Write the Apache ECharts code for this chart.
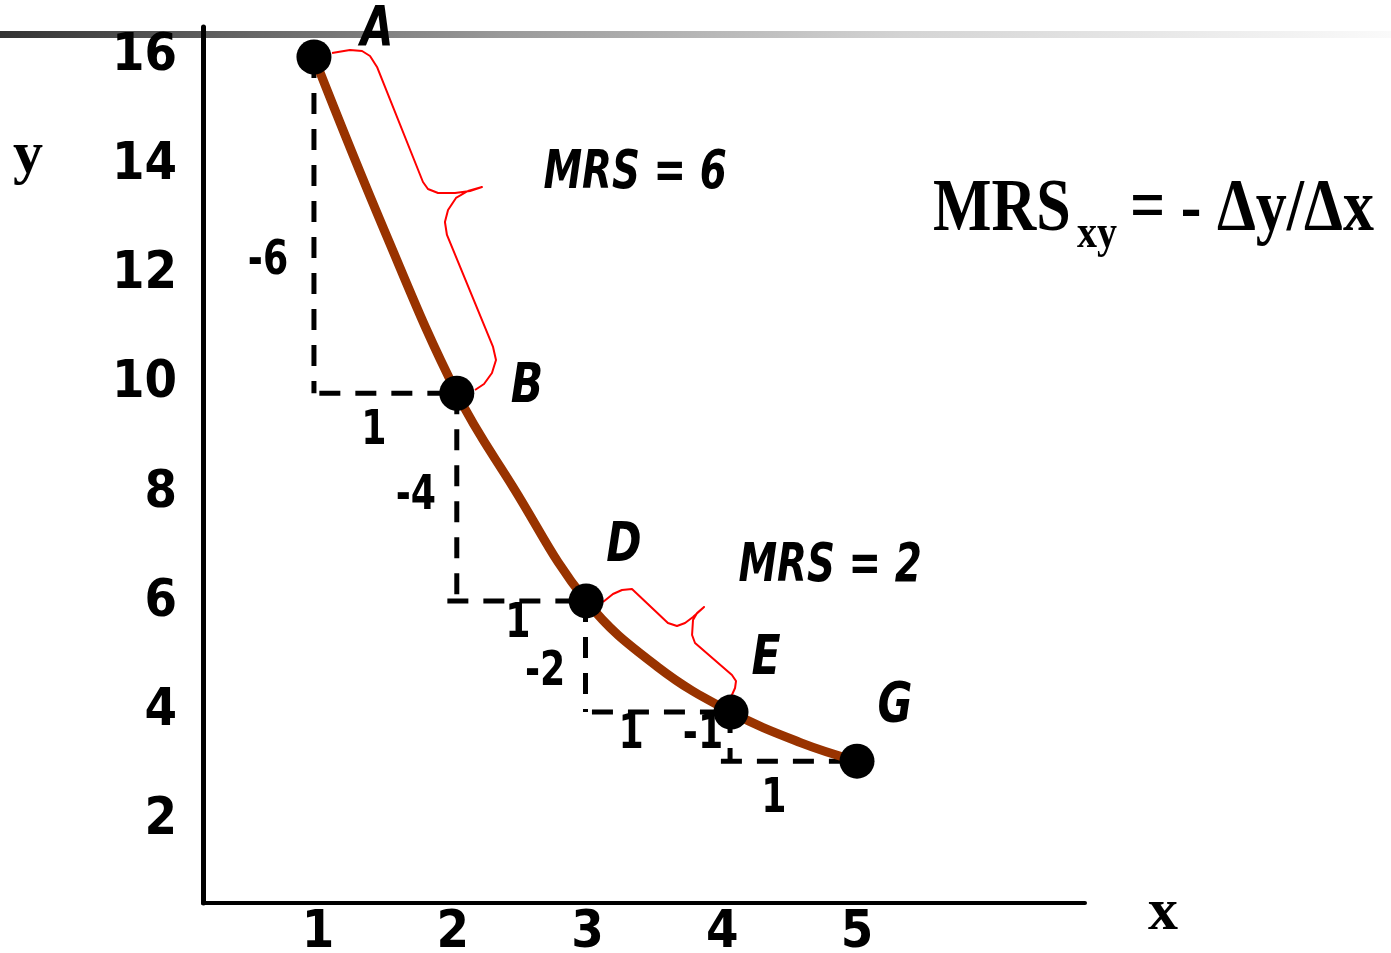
<!DOCTYPE html>
<html>
<head>
<meta charset="utf-8">
<script src="https://cdn.jsdelivr.net/npm/echarts@6/dist/echarts.min.js"></script>
<style>
html,body{margin:0;padding:0;background:#fff;}
#main{width:1391px;height:953px;}
</style>
</head>
<body>
<div id="main"></div>
<script>
// ---------- data ----------
const xTicks = [1, 2, 3, 4, 5];
const yTicks = [2, 4, 6, 8, 10, 12, 14, 16];

const pointNames = ['A', 'B', 'D', 'E', 'G'];
const pointX = [0.97, 2.03, 2.99, 4.065, 5.0];
const pointY = [16, 9.83, 6.02, 3.98, 3.08];

const curveX = [0.97, 1.49, 2.03, 2.45, 2.99, 3.52, 4.065, 4.58, 5.0];
const curveY = [16, 12.83, 9.83, 8.1, 6.02, 4.81, 3.98, 3.42, 3.08];

const brace1X = [1.104, 1.237, 1.327, 1.386, 1.438, 1.779, 1.816, 1.891, 2.017, 2.128, 2.217, 2.113, 2.024, 1.965, 1.942, 1.957, 2.299, 2.321, 2.291, 2.232, 2.165];
const brace1Y = [16.073, 16.128, 16.110, 16.018, 15.817, 13.706, 13.578, 13.505, 13.505, 13.541, 13.615, 13.541, 13.413, 13.193, 12.972, 12.734, 10.679, 10.440, 10.202, 10.000, 9.890];
const brace2X = [3.115, 3.189, 3.256, 3.330, 3.597, 3.664, 3.724, 3.783, 3.865, 3.813, 3.783, 3.776, 3.798, 4.072, 4.102, 4.095, 4.065];
const brace2Y = [6.000, 6.147, 6.220, 6.239, 5.615, 5.560, 5.615, 5.725, 5.908, 5.798, 5.670, 5.394, 5.248, 4.661, 4.550, 4.422, 4.257];

// dashed step segments: start x, start y, end x, end y
const dashX1 = [0.97, 1.01, 2.03, 1.96, 2.985, 3.033, 4.058, 3.99];
const dashY1 = [16, 9.83, 9.83, 6.02, 6.02, 3.98, 3.98, 3.08];
const dashX2 = [0.97, 2.03, 2.03, 2.99, 2.985, 4.065, 4.058, 5.0];
const dashY2 = [9.83, 9.83, 6.02, 6.02, 3.98, 3.98, 3.08, 3.08];

const deltaText = ['-6', '1', '-4', '1', '-2', '1', '-1', '1'];
const deltaX = [0.629, 1.415, 1.727, 2.484, 2.685, 3.323, 3.857, 4.384];
const deltaY = [12.24, 9.119, 7.927, 5.578, 4.697, 3.541, 3.541, 2.367];

const labelX = [1.438, 2.551, 3.271, 4.325, 5.282];
const labelY = [16.49, 9.927, 7.009, 4.936, 4.073];

const mrsText = ['MRS = 6', 'MRS = 2'];
const mrsX = [3.353, 4.80];
const mrsY = [13.86, 6.65];

const formulaText = ['MRS', 'xy', '= - Δy/Δx'];
const formulaX = [5.564, 6.633, 7.026];
const formulaY = [13.17, 12.74, 13.17];

const axisNameText = ['y', 'x'];
const axisNameX = [-1.152, 7.271];
const axisNameY = [14.17, 0.28];

// ---------- styles ----------
const NARROW = "'Liberation Sans Narrow','DejaVu Sans Condensed','Arial Narrow',sans-serif";
const SERIF = "'Liberation Serif','Times New Roman',serif";

function textSeries(xs, ys, texts, fontFn, opts) {
  opts = opts || {};
  return {
    type: 'custom',
    z: opts.z || 5,
    silent: true,
    data: xs.map((x, i) => [x, ys[i]]),
    renderItem: function (params, api) {
      const i = params.dataIndex;
      const p = api.coord([api.value(0), api.value(1)]);
      return {
        type: 'text',
        x: p[0], y: p[1],
        scaleX: opts.scaleX || 1,
        scaleY: opts.scaleY || 1,
        style: {
          text: texts[i],
          font: fontFn(i),
          fill: '#000',
          align: opts.align ? opts.align(i) : 'center',
          verticalAlign: 'middle'
        }
      };
    }
  };
}

const series = [];

// dashed lines
for (let i = 0; i < dashX1.length; i++) {
  series.push({
    type: 'line', z: 2, silent: true, symbol: 'none',
    data: [[dashX1[i], dashY1[i]], [dashX2[i], dashY2[i]]],
    lineStyle: { color: '#000', width: 5, type: [21, 15], cap: 'butt' }
  });
}

// braces
[[brace1X, brace1Y], [brace2X, brace2Y]].forEach(b => {
  series.push({
    type: 'line', z: 3, silent: true, symbol: 'none', smooth: false,
    data: b[0].map((x, i) => [x, b[1][i]]),
    lineStyle: { color: '#ff0000', width: 2, join: 'round' }
  });
});

// indifference curve
series.push({
  type: 'line', z: 4, silent: true, symbol: 'none', smooth: 0.4,
  data: curveX.map((x, i) => [x, curveY[i]]),
  lineStyle: { color: '#993300', width: 9, cap: 'round', join: 'round' }
});

// texts
series.push(textSeries(deltaX, deltaY, deltaText, () => 'bold 48px ' + NARROW, { scaleX: 0.84 }));
series.push(textSeries(labelX, labelY, pointNames, () => 'italic bold 55px ' + NARROW, { scaleX: 0.86 }));
series.push(textSeries(mrsX, mrsY, mrsText, () => 'italic bold 54px ' + NARROW, { scaleX: 0.8 }));
series.push(textSeries(formulaX, formulaY, formulaText,
  i => (i === 1 ? 'bold 40px ' : 'bold 62px ') + SERIF,
  { align: () => 'left', scaleY: 1.18 }));
series.push(textSeries(axisNameX, axisNameY, axisNameText, () => 'bold 60px ' + SERIF));

// points
series.push({
  type: 'scatter', z: 10, silent: true,
  symbolSize: 35,
  data: pointX.map((x, i) => [x, pointY[i]]),
  itemStyle: { color: '#000', opacity: 1 }
});

const chart = echarts.init(document.getElementById('main'));
chart.setOption({
  animation: false,
  backgroundColor: '#fff',
  graphic: {
    elements: [{
      type: 'rect', z: -10, silent: true,
      shape: { x: 0, y: 31, width: 1391, height: 7 },
      style: {
        fill: {
          type: 'linear', x: 0, y: 0, x2: 1, y2: 0,
          colorStops: [
            { offset: 0, color: '#333333' },
            { offset: 0.36, color: '#999999' },
            { offset: 0.65, color: '#d4d4d4' },
            { offset: 1, color: '#fafafa' }
          ]
        }
      }
    }]
  },
  grid: { left: 203, right: 306, top: 27, bottom: 50, outerBoundsMode: 'none' },
  xAxis: {
    type: 'value', min: 0.1466, max: 6.692,
    splitLine: { show: false },
    axisTick: { show: false },
    axisLine: { show: true, onZero: false, lineStyle: { color: '#000', width: 4 } },
    axisLabel: {
      customValues: xTicks, margin: 4,
      color: '#000', fontFamily: NARROW, fontWeight: 'bold', fontSize: 52
    }
  },
  yAxis: {
    type: 'value', min: 0.477, max: 16.55,
    splitLine: { show: false },
    axisTick: { show: false },
    axisLine: { show: true, onZero: false, lineStyle: { color: '#000', width: 5 } },
    axisLabel: {
      customValues: yTicks, margin: 26,
      color: '#000', fontFamily: NARROW, fontWeight: 'bold', fontSize: 52
    }
  },
  series: series
});
</script>
</body>
</html>
